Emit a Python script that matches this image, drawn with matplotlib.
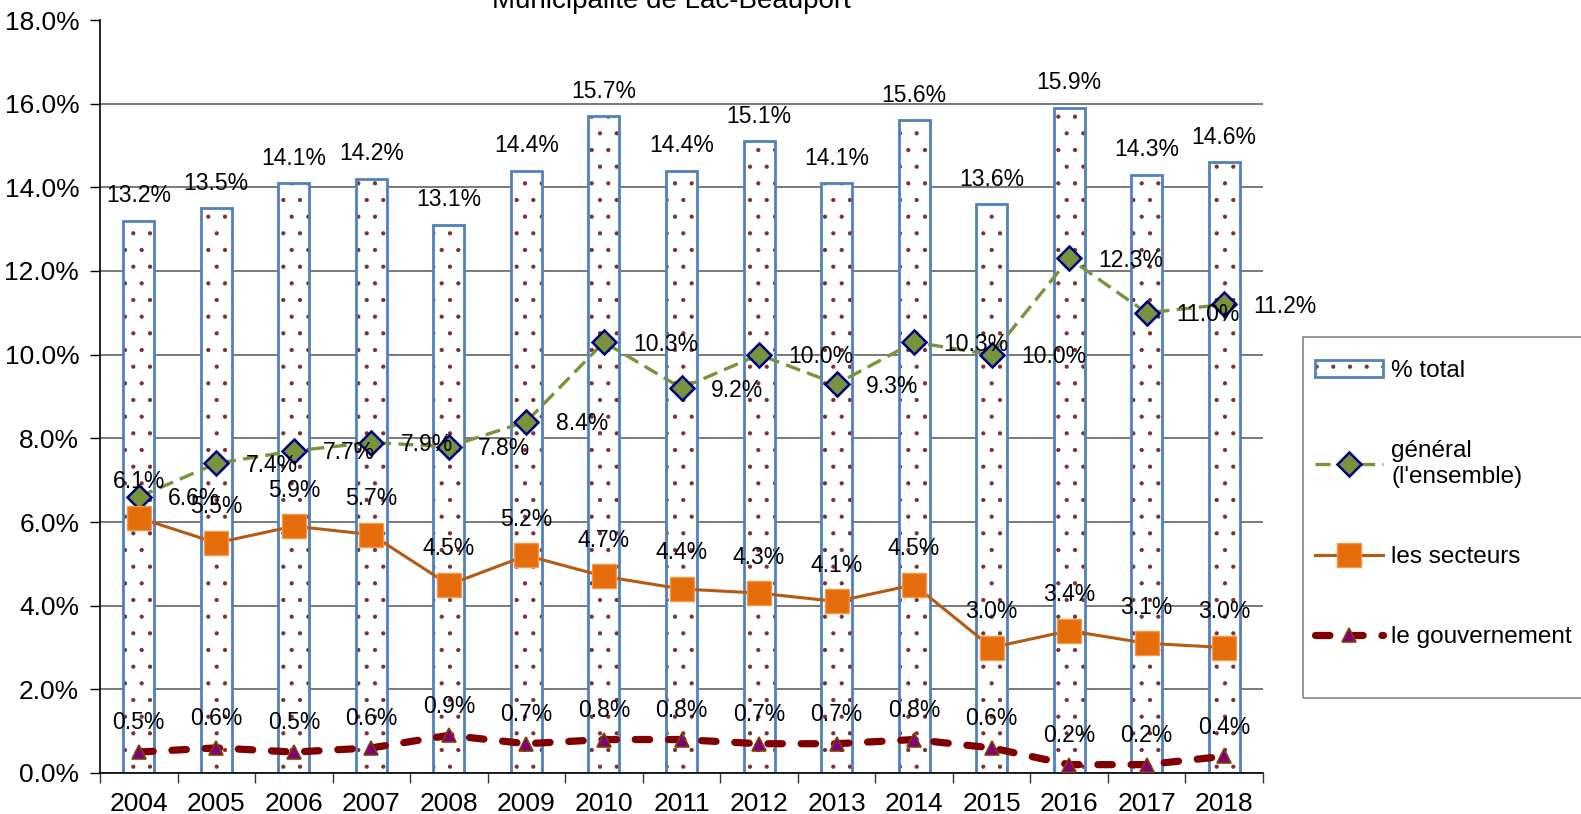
import matplotlib
matplotlib.use("Agg")
import matplotlib.pyplot as plt
from matplotlib.patches import Rectangle
from matplotlib.ticker import FuncFormatter, FixedLocator

plt.rcParams['font.family'] = ['Liberation Sans', 'DejaVu Sans']
plt.rcParams['hatch.color'] = '#7A3030'
plt.rcParams['hatch.linewidth'] = 0.6

years = ['2004', '2005', '2006', '2007', '2008', '2009', '2010', '2011',
         '2012', '2013', '2014', '2015', '2016', '2017', '2018']
total = [13.2, 13.5, 14.1, 14.2, 13.1, 14.4, 15.7, 14.4, 15.1, 14.1, 15.6, 13.6, 15.9, 14.3, 14.6]
general = [6.6, 7.4, 7.7, 7.9, 7.8, 8.4, 10.3, 9.2, 10.0, 9.3, 10.3, 10.0, 12.3, 11.0, 11.2]
secteurs = [6.1, 5.5, 5.9, 5.7, 4.5, 5.2, 4.7, 4.4, 4.3, 4.1, 4.5, 3.0, 3.4, 3.1, 3.0]
gouvernement = [0.5, 0.6, 0.5, 0.6, 0.9, 0.7, 0.8, 0.8, 0.7, 0.7, 0.8, 0.6, 0.2, 0.2, 0.4]

W, H = 1581, 814
fig = plt.figure(figsize=(W / 100, H / 100), dpi=100)
ax = fig.add_axes([100 / W, 1 - 773 / H, (1263 - 100) / W, (773 - 20) / H])

x = list(range(len(years)))
fs = 16.5      # data labels
tfs = 19       # tick labels

# bars: hatch layer + blue outline layer
b_hatch = ax.bar(x, total, width=0.4, color='white', hatch='.', linewidth=0, zorder=2)
b_edge = ax.bar(x, total, width=0.4, fill=False, edgecolor='#4F81BD', linewidth=2, zorder=2.1)

l_gen, = ax.plot(x, general, color='#77933C', lw=2.4, dashes=(4.5, 2.2),
                 marker='D', markersize=12, markerfacecolor='#77933C',
                 markeredgecolor='#000080', markeredgewidth=1.8, zorder=4)
l_sec, = ax.plot(x, secteurs, color='#B55A12', lw=2.2,
                 marker='s', markersize=17, markerfacecolor='#E46C0A',
                 markeredgecolor='#F79646', markeredgewidth=1, zorder=4)
l_gov, = ax.plot(x, gouvernement, color='#800000', lw=5.2, dashes=(2, 2.6),
                 dash_capstyle='round', marker='^', markersize=10,
                 markerfacecolor='#7F007F', markeredgecolor='#7F3F00',
                 markeredgewidth=1.2, zorder=4)

pct = lambda v: f'{v:.1f}%'
for i, v in enumerate(total):
    ax.annotate(pct(v), (i, v), xytext=(0, 18), textcoords='offset points',
                ha='center', va='center', fontsize=fs, zorder=6)
for i, v in enumerate(general):
    ax.annotate(pct(v), (i, v), xytext=(21, -1.5), textcoords='offset points',
                ha='left', va='center', fontsize=fs, zorder=6)
for i, v in enumerate(secteurs):
    ax.annotate(pct(v), (i, v), xytext=(0, 26), textcoords='offset points',
                ha='center', va='center', fontsize=fs, zorder=6)
for i, v in enumerate(gouvernement):
    ax.annotate(pct(v), (i, v), xytext=(0, 21), textcoords='offset points',
                ha='center', va='center', fontsize=fs, zorder=6)

ax.set_xlim(-0.5, len(years) - 0.5)
ax.set_ylim(0, 18)
ax.set_yticks(range(0, 19, 2))
ax.yaxis.set_major_formatter(FuncFormatter(lambda v, p: f'{v:.1f}%'))
ax.set_xticks(x)
ax.set_xticklabels(years)
ax.xaxis.set_minor_locator(FixedLocator([i - 0.5 for i in range(len(years) + 1)]))
ax.tick_params(axis='x', which='major', length=0, pad=14, labelsize=tfs)
ax.tick_params(axis='x', which='minor', length=7, width=1, color='#333333')
ax.tick_params(axis='y', length=7, width=1, pad=8, labelsize=tfs)

ax.yaxis.grid(True, color='#555555', lw=1.1, zorder=0)
ax.set_axisbelow(True)
ax.get_ygridlines()[-1].set_visible(False)
for s in ['top', 'right']:
    ax.spines[s].set_visible(False)
for s in ['left', 'bottom']:
    ax.spines[s].set_linewidth(1.2)

fig.text(671 / W, 1 - 8 / H, 'Municipalité de Lac-Beauport', ha='center',
         va='baseline', fontsize=20)

# legend frame
fig.patches.append(Rectangle((1303 / W, 1 - 698 / H), (W - 1303) / W + 0.01,
                             (698 - 337) / H, transform=fig.transFigure,
                             fill=False, edgecolor='#888888', lw=1.2))
leg = fig.legend([(b_hatch[0], b_edge[0]), l_gen, l_sec, l_gov],
                 ['% total', "général\n(l'ensemble)", 'les secteurs', 'le gouvernement'],
                 loc='upper left', bbox_to_anchor=(1315 / W, 1 - 360 / H),
                 frameon=False, fontsize=17.5, handlelength=2.8, handletextpad=0.33,
                 labelspacing=2.4, borderaxespad=0, borderpad=0)

fig.savefig('out.png', dpi=100)
